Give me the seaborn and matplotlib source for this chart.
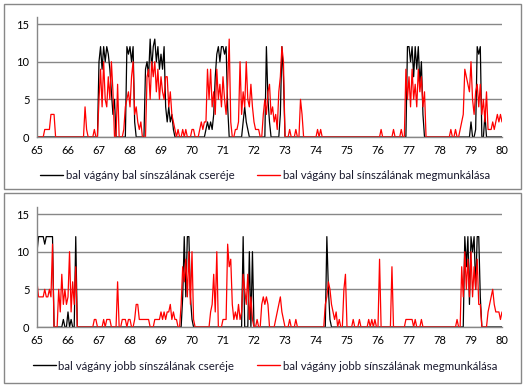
import numpy as np
import pandas as pd
import matplotlib
matplotlib.use("Agg")
import matplotlib.pyplot as plt
from matplotlib.lines import Line2D
from matplotlib.patches import Rectangle
import seaborn as sns

# km positions: 65.00, 65.05, ... 80.00 (one row of values per km below)
km = np.round(np.arange(6500, 8001, 5) / 100, 2)

# upper chart - bal vágány bal sínszál
top_csere = [
    0, 0, 0, 0, 0, 0, 0, 0, 0, 0, 0, 0, 0, 0, 0, 0, 0, 0, 0, 0,  # 65
    0, 0, 0, 0, 0, 0, 0, 0, 0, 0, 0, 0, 0, 0, 0, 0, 0, 0, 0, 0,  # 66
    10, 12, 9, 12, 10, 12, 11, 9, 6, 3, 5, 0, 0, 0, 0, 0, 0, 0, 12, 11,  # 67
    12, 10, 12, 2, 0, 0, 0, 0, 0, 0, 9, 10, 8, 13, 9, 12, 13, 10, 12, 9,  # 68
    11, 9, 12, 4, 2, 4, 2, 3, 1, 0, 0, 0, 0, 0, 0, 0, 0, 0, 0, 0,  # 69
    0, 0, 0, 0, 0, 0, 0, 0, 0, 1, 2, 1, 2, 1, 3, 8, 11, 12, 10, 12,  # 70
    12, 11, 12, 4, 0, 0, 0, 0, 0, 0, 0, 0, 0, 2, 4, 2, 1, 0, 0, 0,  # 71
    0, 0, 0, 0, 0, 0, 0, 0, 12, 5, 2, 0, 0, 0, 0, 0, 0, 3, 12, 8,  # 72
    0, 0, 0, 0, 0, 0, 0, 0, 0, 0, 0, 0, 0, 0, 0, 0, 0, 0, 0, 0,  # 73
    0, 0, 0, 0, 0, 0, 0, 0, 0, 0, 0, 0, 0, 0, 0, 0, 0, 0, 0, 0,  # 74
    0, 0, 0, 0, 0, 0, 0, 0, 0, 0, 0, 0, 0, 0, 0, 0, 0, 0, 0, 0,  # 75
    0, 0, 0, 0, 0, 0, 0, 0, 0, 0, 0, 0, 0, 0, 0, 0, 0, 0, 0, 12,  # 76
    12, 10, 12, 8, 12, 9, 12, 7, 10, 3, 0, 0, 0, 0, 0, 0, 0, 0, 0, 0,  # 77
    0, 0, 0, 0, 0, 0, 0, 0, 0, 0, 0, 0, 0, 0, 0, 0, 0, 0, 0, 0,  # 78
    2, 0, 0, 1, 12, 11, 12, 0, 0, 3, 0, 0, 0, 0, 0, 0, 0, 0, 0, 0,  # 79
    0,
]
top_megm = [
    0, 0, 0, 0, 0, 1, 1, 1, 1, 3, 3, 3, 0, 0, 0, 0, 0, 0, 0, 0,  # 65
    0, 0, 0, 0, 0, 0, 0, 0, 0, 0, 0, 4, 1, 0, 0, 0, 0, 1, 0, 0,  # 66
    5, 9, 4, 10, 5, 4, 8, 5, 10, 6, 0, 0, 7, 0, 0, 0, 1, 4, 5, 6,  # 67
    4, 8, 10, 3, 4, 2, 1, 2, 0, 0, 0, 8, 9, 5, 10, 8, 10, 6, 9, 5,  # 68
    8, 6, 5, 8, 8, 4, 6, 3, 2, 1, 0, 1, 0, 0, 1, 0, 1, 0, 0, 0,  # 69
    1, 1, 0, 0, 0, 1, 2, 1, 2, 2, 9, 5, 9, 4, 6, 3, 9, 5, 7, 4,  # 70
    8, 5, 3, 7, 13, 2, 0, 0, 1, 1, 2, 10, 3, 6, 4, 10, 5, 4, 7, 4,  # 71
    2, 1, 1, 1, 0, 0, 3, 5, 3, 6, 7, 3, 4, 2, 3, 1, 6, 8, 12, 10,  # 72
    0, 0, 0, 1, 0, 0, 0, 1, 0, 0, 5, 3, 0, 0, 0, 0, 0, 0, 0, 0,  # 73
    0, 1, 0, 1, 0, 0, 0, 0, 0, 0, 0, 0, 0, 0, 0, 0, 0, 0, 0, 0,  # 74
    0, 0, 0, 0, 0, 0, 0, 0, 0, 0, 0, 0, 0, 0, 0, 0, 0, 0, 0, 0,  # 75
    0, 0, 1, 0, 0, 0, 0, 0, 0, 0, 1, 0, 0, 0, 0, 1, 0, 0, 9, 5,  # 76
    8, 4, 9, 5, 7, 4, 9, 6, 8, 4, 6, 0, 0, 0, 0, 0, 0, 0, 0, 0,  # 77
    0, 0, 0, 0, 0, 0, 0, 1, 0, 0, 1, 0, 0, 1, 2, 3, 9, 8, 7, 6,  # 78
    10, 5, 3, 6, 7, 4, 7, 3, 5, 2, 6, 1, 1, 1, 2, 1, 2, 3, 2, 3,  # 79
    2,
]

# lower chart - bal vágány jobb sínszál
bot_csere = [
    10, 12, 12, 12, 12, 11, 12, 12, 12, 12, 12, 0, 0, 0, 0, 0, 0, 1, 0, 0,  # 65
    2, 0, 1, 0, 0, 12, 0, 0, 0, 0, 0, 0, 0, 0, 0, 0, 0, 0, 0, 0,  # 66
    0, 0, 0, 0, 0, 0, 0, 0, 0, 0, 0, 0, 0, 0, 0, 0, 0, 0, 0, 0,  # 67
    0, 0, 0, 0, 0, 0, 0, 0, 0, 0, 0, 0, 0, 0, 0, 0, 0, 0, 0, 0,  # 68
    0, 0, 0, 0, 0, 0, 0, 0, 0, 0, 0, 0, 0, 0, 4, 12, 4, 12, 12, 4,  # 69
    1, 0, 0, 0, 0, 0, 0, 0, 0, 0, 0, 0, 0, 0, 0, 0, 0, 0, 0, 0,  # 70
    0, 0, 0, 0, 0, 0, 0, 0, 0, 0, 0, 0, 0, 12, 0, 0, 0, 10, 0, 10,  # 71
    0, 0, 0, 0, 0, 0, 0, 0, 0, 0, 0, 0, 0, 0, 0, 0, 0, 0, 0, 0,  # 72
    0, 0, 0, 0, 0, 0, 0, 0, 0, 0, 0, 0, 0, 0, 0, 0, 0, 0, 0, 0,  # 73
    0, 0, 0, 0, 0, 0, 0, 12, 5, 1, 0, 0, 0, 0, 0, 0, 0, 0, 0, 0,  # 74
    0, 0, 0, 0, 0, 0, 0, 0, 0, 0, 0, 0, 0, 0, 0, 0, 0, 0, 0, 0,  # 75
    0, 0, 0, 0, 0, 0, 0, 0, 0, 0, 0, 0, 0, 0, 0, 0, 0, 0, 0, 0,  # 76
    0, 0, 0, 0, 0, 0, 0, 0, 0, 0, 0, 0, 0, 0, 0, 0, 0, 0, 0, 0,  # 77
    0, 0, 0, 0, 0, 0, 0, 0, 0, 0, 0, 0, 0, 0, 0, 0, 12, 8, 12, 3,  # 78
    12, 10, 12, 5, 12, 12, 4, 0, 0, 0, 0, 0, 0, 0, 0, 0, 0, 0, 0, 0,  # 79
    0,
]
bot_megm = [
    6, 4, 4, 4, 4, 5, 4, 4, 5, 4, 11, 0, 0, 0, 5, 2, 7, 3, 5, 3,  # 65
    4, 10, 2, 6, 3, 8, 0, 0, 0, 0, 0, 0, 0, 0, 0, 0, 0, 1, 1, 0,  # 66
    0, 0, 0, 1, 0, 1, 1, 1, 0, 0, 0, 0, 6, 0, 0, 1, 1, 1, 0, 1,  # 67
    1, 0, 0, 1, 3, 3, 1, 1, 1, 1, 1, 1, 1, 0, 0, 0, 1, 1, 1, 1,  # 68
    2, 1, 2, 1, 2, 2, 3, 1, 2, 1, 1, 0, 0, 3, 8, 6, 9, 4, 10, 3,  # 69
    10, 1, 0, 0, 0, 0, 0, 0, 0, 0, 0, 0, 2, 3, 7, 2, 10, 0, 0, 0,  # 70
    1, 1, 1, 11, 8, 9, 3, 1, 2, 1, 3, 1, 2, 7, 5, 3, 7, 1, 4, 1,  # 71
    0, 0, 1, 0, 0, 3, 4, 3, 4, 3, 0, 0, 0, 0, 1, 2, 3, 4, 2, 1,  # 72
    0, 0, 0, 1, 0, 0, 0, 1, 0, 0, 0, 0, 0, 0, 0, 0, 0, 0, 0, 0,  # 73
    0, 0, 0, 0, 0, 0, 3, 4, 6, 5, 3, 2, 1, 2, 0, 1, 0, 0, 5, 7,  # 74
    0, 0, 0, 0, 1, 0, 0, 0, 1, 0, 0, 0, 0, 0, 1, 0, 1, 0, 1, 0,  # 75
    0, 9, 0, 0, 0, 0, 0, 0, 0, 8, 0, 0, 0, 0, 0, 0, 0, 0, 1, 1,  # 76
    1, 1, 1, 0, 1, 0, 0, 0, 1, 0, 0, 0, 0, 0, 0, 0, 0, 0, 0, 0,  # 77
    0, 0, 0, 0, 0, 0, 0, 0, 0, 0, 0, 1, 0, 0, 8, 4, 10, 5, 9, 4,  # 78
    10, 4, 8, 5, 9, 3, 3, 0, 0, 0, 0, 2, 3, 4, 5, 3, 2, 2, 2, 1,  # 79
    2,
]

labels_top = ["bal vágány bal sínszálának cseréje", "bal vágány bal sínszálának megmunkálása"]
labels_bot = ["bal vágány jobb sínszálának cseréje", "bal vágány jobb sínszálának megmunkálása"]
x_ticks = list(range(65, 81))
y_ticks = [0, 5, 10, 15]

sns.set_style("white")
plt.rcParams["font.family"] = ["Lato", "DejaVu Sans"]

grey = "#878787"
W, H = 529, 385
fig = plt.figure(figsize=(W / 100, H / 100), dpi=100)


def px(x0, y0, x1, y1):
    return [x0 / W, 1 - y1 / H, (x1 - x0) / W, (y1 - y0) / H]


def panel(rect, black, red, labels, leg_y):
    ax = fig.add_axes(rect)
    df = pd.DataFrame({"km": km, "csere": black, "megm": red})
    sns.lineplot(data=df, x="km", y="csere", ax=ax, color="black", lw=0.9)
    sns.lineplot(data=df, x="km", y="megm", ax=ax, color="#ff0000", lw=0.9)
    ax.set_xlim(65, 80)
    ax.set_ylim(0, 16)
    ax.set_xticks(x_ticks)
    ax.set_yticks(y_ticks)
    ax.set_xlabel("")
    ax.set_ylabel("")
    ax.grid(axis="y", color=grey, lw=1)
    ax.set_axisbelow(True)
    for s in ["top", "right"]:
        ax.spines[s].set_visible(False)
    for s in ["left", "bottom"]:
        ax.spines[s].set_color(grey)
        ax.spines[s].set_linewidth(1)
    ax.tick_params(axis="both", colors=grey, labelcolor="black", labelsize=8,
                   direction="out", length=3.5, width=1)
    ax.tick_params(axis="y", pad=2)
    ax.tick_params(axis="x", pad=2.5)
    handles = [Line2D([], [], color="black", lw=1), Line2D([], [], color="#ff0000", lw=1)]
    fig.legend(handles, labels, loc="center", bbox_to_anchor=(265 / W, 1 - leg_y / H),
               ncol=2, frameon=False, fontsize=8.3, handlelength=2.0, handletextpad=0.2,
               columnspacing=2.0, labelcolor="#1a1a2e")
    return ax


panel(px(37, 16.5, 502, 137), top_csere, top_megm, labels_top, 176)
panel(px(37, 206.5, 502, 327), bot_csere, bot_megm, labels_bot, 366)

for y0, y1 in [(3.5, 189), (193, 383)]:
    fig.patches.append(Rectangle((3.5 / W, 1 - y1 / H), 517 / W, (y1 - y0) / H,
                                 transform=fig.transFigure, fill=False,
                                 edgecolor=grey, lw=1))

fig.savefig("out.png", dpi=100)
plt.close("all")
